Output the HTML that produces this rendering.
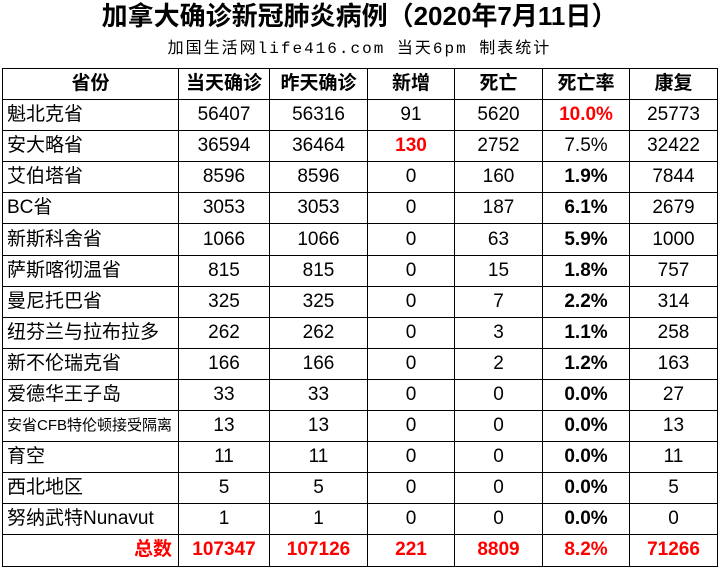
<!DOCTYPE html>
<html><head><meta charset="utf-8"><style>
body{margin:0;width:719px;height:584px;background:#fff;position:relative;overflow:hidden;font-family:"Liberation Sans","Noto Sans CJK SC",sans-serif;}
.t{position:absolute;left:0;width:719px;top:1px;text-align:center;font-size:26px;font-weight:bold;line-height:30px;}
.s{position:absolute;left:0;width:719px;top:39px;text-align:center;font-size:16px;line-height:20px;letter-spacing:2px;font-family:"Liberation Mono","Noto Sans CJK SC",monospace;}
table{position:absolute;left:2px;top:68px;border-collapse:collapse;table-layout:fixed;}
td{border:1px solid #000;height:30.1px;padding:0;text-align:center;font-size:19px;line-height:30px;white-space:nowrap;overflow:hidden;}
td:first-child{text-align:left;padding-left:4px;}
tr.h td{font-weight:bold;}
tr.h td:first-child{text-align:center;padding-left:0;}
.r{color:#f00;font-weight:bold;}
.b{font-weight:bold;}
tr.tot td{color:#f00;font-weight:bold;}
tr.tot td:first-child{text-align:right;padding-right:6px;}
</style></head><body>
<div class="t">加拿大确诊新冠肺炎病例（2020年7月11日）</div>
<div class="s">加国生活网life416.com 当天6pm 制表统计</div>
<table>
<colgroup><col style="width:176px"><col style="width:91px"><col style="width:98px"><col style="width:87px"><col style="width:88px"><col style="width:87px"><col style="width:88px"></colgroup>
<tr class="h"><td>省份</td><td>当天确诊</td><td>昨天确诊</td><td>新增</td><td>死亡</td><td>死亡率</td><td>康复</td></tr>
<tr><td>魁北克省</td><td>56407</td><td>56316</td><td>91</td><td>5620</td><td class="r">10.0%</td><td>25773</td></tr>
<tr><td>安大略省</td><td>36594</td><td>36464</td><td class="r">130</td><td>2752</td><td>7.5%</td><td>32422</td></tr>
<tr><td>艾伯塔省</td><td>8596</td><td>8596</td><td>0</td><td>160</td><td class="b">1.9%</td><td>7844</td></tr>
<tr><td>BC省</td><td>3053</td><td>3053</td><td>0</td><td>187</td><td class="b">6.1%</td><td>2679</td></tr>
<tr><td>新斯科舍省</td><td>1066</td><td>1066</td><td>0</td><td>63</td><td class="b">5.9%</td><td>1000</td></tr>
<tr><td>萨斯喀彻温省</td><td>815</td><td>815</td><td>0</td><td>15</td><td class="b">1.8%</td><td>757</td></tr>
<tr><td>曼尼托巴省</td><td>325</td><td>325</td><td>0</td><td>7</td><td class="b">2.2%</td><td>314</td></tr>
<tr><td>纽芬兰与拉布拉多</td><td>262</td><td>262</td><td>0</td><td>3</td><td class="b">1.1%</td><td>258</td></tr>
<tr><td>新不伦瑞克省</td><td>166</td><td>166</td><td>0</td><td>2</td><td class="b">1.2%</td><td>163</td></tr>
<tr><td>爱德华王子岛</td><td>33</td><td>33</td><td>0</td><td>0</td><td class="b">0.0%</td><td>27</td></tr>
<tr><td style="font-size:15px">安省CFB特伦顿接受隔离</td><td>13</td><td>13</td><td>0</td><td>0</td><td class="b">0.0%</td><td>13</td></tr>
<tr><td>育空</td><td>11</td><td>11</td><td>0</td><td>0</td><td class="b">0.0%</td><td>11</td></tr>
<tr><td>西北地区</td><td>5</td><td>5</td><td>0</td><td>0</td><td class="b">0.0%</td><td>5</td></tr>
<tr><td>努纳武特Nunavut</td><td>1</td><td>1</td><td>0</td><td>0</td><td class="b">0.0%</td><td>0</td></tr>
<tr class="tot"><td>总数</td><td>107347</td><td>107126</td><td>221</td><td>8809</td><td>8.2%</td><td>71266</td></tr>
</table>
</body></html>
